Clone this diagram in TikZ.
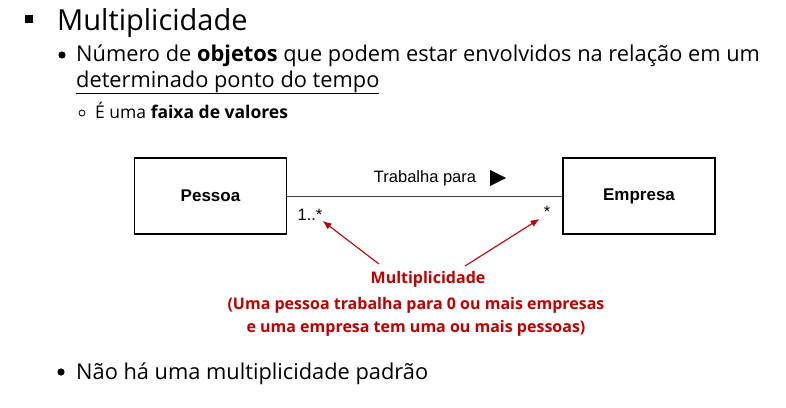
\documentclass[tikz,border=0pt]{standalone}
\usepackage{fontspec}
\setmainfont{Open Sans}
\newfontfamily\arialfont{Liberation Sans}
\usetikzlibrary{arrows.meta}
\definecolor{multred}{HTML}{C00000}
\tikzset{
  slidetext/.style={anchor=base west, inner sep=0pt},
  classbox/.style={draw=black, line width=1.6pt, minimum width=152pt, minimum height=76pt, inner sep=0pt,
    font=\arialfont\bfseries\fontsize{17}{19}\selectfont},
  umltext/.style={inner sep=0pt, font=\arialfont\fontsize{16.5}{19}\selectfont},
  assoc/.style={draw=black!75, line width=1pt},
  multarrow/.style={draw=multred, line width=1.1pt, -{Latex[length=9pt,width=7pt]}},
  redtext/.style={text=multred, inner sep=0pt, font=\bfseries\fontsize{16}{23}\selectfont, align=center}
}
\begin{document}
\begin{tikzpicture}[x=1pt,y=-1pt]
\useasboundingbox (0,0) rectangle (786,407);

% bullets
  \fill (25,15) rectangle (33,23);
  \fill (62,55) circle (3.6);
  \draw[line width=.8pt] (82,113) circle (3);
  \fill (61,372) circle (3.6);

% slide text
  \node[slidetext, font=\fontsize{29}{33}\selectfont] (title) at (57,30) {Multiplicidade};
  \node[slidetext, font=\fontsize{21.8}{25}\selectfont] (line1) at (76,61)
    {Número de \textbf{objetos} que podem estar envolvidos na relação em um};
  \node[slidetext, font=\fontsize{21.8}{25}\selectfont] (line2) at (76,87)
    {\underline{determinado ponto do tempo}};
  \node[slidetext, font=\fontsize{17.5}{20}\selectfont] (line3) at (95,118)
    {É uma \textbf{faixa de valores}};
  \node[slidetext, font=\fontsize{21.8}{25}\selectfont] (line4) at (76,379)
    {Não há uma multiplicidade padrão};

% classes
  \node[classbox] (pessoa) at (210.5,196) {Pessoa};
  \node[classbox] (empresa) at (639,196) {Empresa};
  \draw[assoc] (pessoa) -- (empresa);

% association labels
  \node[umltext] (rel) at (425,178) {Trabalha para};
  \fill (490,170) -- (506,178) -- (490,186) -- cycle;
  \node[umltext] (multA) at (310,215) {1..*};
  \node[umltext] (multB) at (547,212) {*};

% multiplicity note
  \node[redtext] (mult) at (428,279) {Multiplicidade};
  \node[redtext] (expl) at (416,317)
    {(Uma pessoa trabalha para 0 ou mais empresas\\e uma empresa tem uma ou mais pessoas)};
  \coordinate (tailA) at (379,264);
  \coordinate (tailB) at (465,266);
  \draw[multarrow] (tailA) -- (multA.south east);
  \draw[multarrow] (tailB) -- ([xshift=-4pt,yshift=-1pt]multB.south west);
\end{tikzpicture}
\end{document}
